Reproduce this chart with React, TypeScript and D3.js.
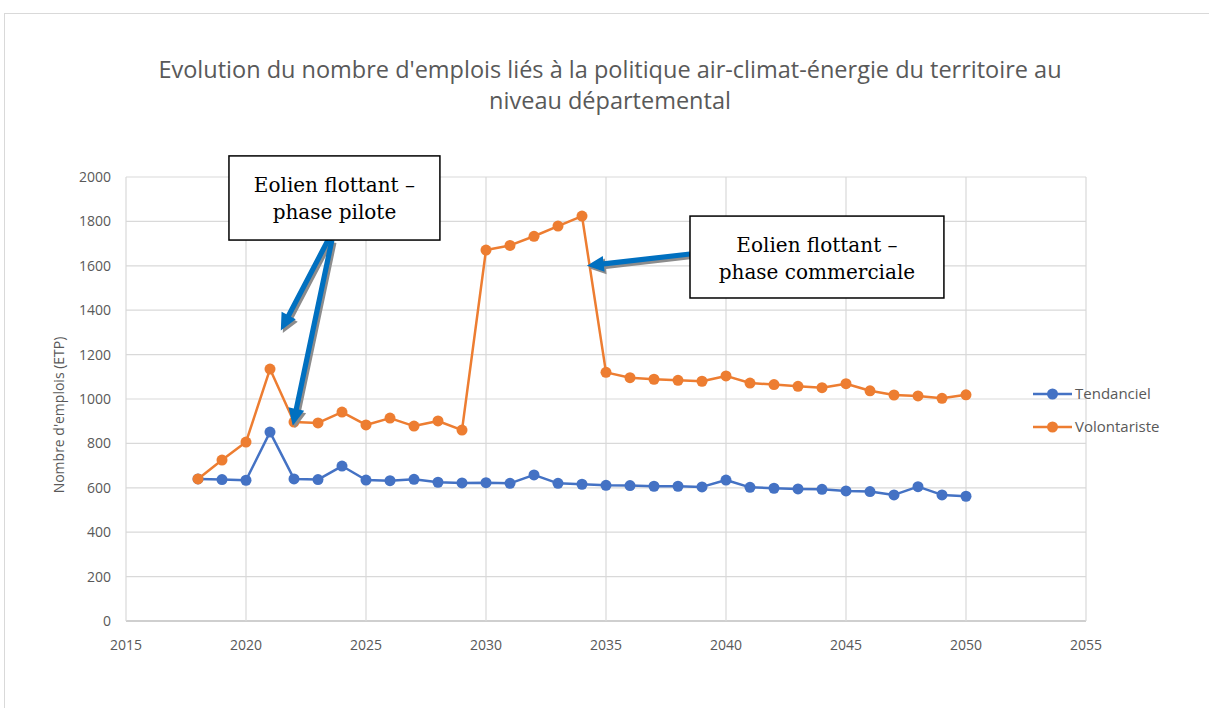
import React from 'react';
import * as d3 from 'd3';

const years = [2018, 2019, 2020, 2021, 2022, 2023, 2024, 2025, 2026, 2027, 2028, 2029, 2030, 2031, 2032, 2033, 2034, 2035, 2036, 2037, 2038, 2039, 2040, 2041, 2042, 2043, 2044, 2045, 2046, 2047, 2048, 2049, 2050];
const tendanciel = [640, 637, 634, 851, 640, 637, 698, 635, 632, 638, 625, 622, 623, 620, 658, 620, 616, 611, 610, 607, 607, 604, 635, 602, 598, 595, 593, 586, 583, 568, 605, 568, 562];
const volontariste = [640, 725, 806, 1135, 896, 892, 941, 883, 914, 878, 901, 860, 1671, 1692, 1733, 1779, 1824, 1120, 1096, 1089, 1084, 1080, 1104, 1072, 1065, 1057, 1051, 1069, 1037, 1018, 1014, 1003, 1019];
const xTicks = [2015, 2020, 2025, 2030, 2035, 2040, 2045, 2050, 2055];
const yTicks = [0, 200, 400, 600, 800, 1000, 1200, 1400, 1600, 1800, 2000];
const seriesNames = ['Tendanciel', 'Volontariste'];
const titleLines = ["Evolution du nombre d'emplois liés à la politique air-climat-énergie du territoire au", 'niveau départemental'];
const yLabel = "Nombre d'emplois (ETP)";

// annotations in data units
const boxes = [
  { x0: 2019.29, x1: 2028.08, y0: 2095, y1: 1716, lines: ['Eolien flottant –', 'phase pilote'] },
  { x0: 2038.5, x1: 2049.08, y0: 1824, y1: 1455, lines: ['Eolien flottant –', 'phase commerciale'] },
];
const arrows = [
  { fx: 2023.42, fy: 1716, tx: 2021.45, ty: 1308 },
  { fx: 2023.58, fy: 1716, tx: 2021.95, ty: 880 },
  { fx: 2038.5, fy: 1653, tx: 2034.2, ty: 1600 },
];

const W = 1209, H = 708;
const BLUE = '#4472C4', ORANGE = '#ED7D31', GRID = '#D9D9D9', TXT = '#595959';
const FONT = '"Open Sans", Lato, sans-serif';

export default function App() {
  const x = d3.scaleLinear().domain([2015, 2055]).range([126, 1086]);
  const y = d3.scaleLinear().domain([0, 2000]).range([621, 177]);
  const line = d3.line<number>().x((_, i) => x(years[i])).y(d => y(d));
  const series = [
    { name: seriesNames[0], values: tendanciel, color: BLUE },
    { name: seriesNames[1], values: volontariste, color: ORANGE },
  ];

  const arrowShape = (a: typeof arrows[0], k: number, dx: number, dy: number, color: string) => {
    const x1 = x(a.fx) + dx, y1 = y(a.fy) + dy, x2 = x(a.tx) + dx, y2 = y(a.ty) + dy;
    const ang = Math.atan2(y2 - y1, x2 - x1);
    const hl = 17, hw = 8, sw = 2.6;
    const bx = x2 - hl * Math.cos(ang), by = y2 - hl * Math.sin(ang);
    const px = -Math.sin(ang), py = Math.cos(ang);
    const pts = [
      [x1 + px * sw, y1 + py * sw],
      [bx + px * sw, by + py * sw],
      [bx + px * hw, by + py * hw],
      [x2, y2],
      [bx - px * hw, by - py * hw],
      [bx - px * sw, by - py * sw],
      [x1 - px * sw, y1 - py * sw],
    ];
    return <polygon key={k + color} points={pts.map(p => p.join(',')).join(' ')} fill={color} />;
  };

  return (
    <svg width={W} height={H} style={{ position: 'absolute', left: 0, top: 0, background: '#fff' }}>
      <rect x={4.5} y={13.5} width={W + 10} height={H + 10} fill="#fff" stroke={GRID} strokeWidth={1} />
      <text x={610} y={78} textAnchor="middle" fontFamily={FONT} fontSize={23.5} fill={TXT}>{titleLines[0]}</text>
      <text x={610} y={109} textAnchor="middle" fontFamily={FONT} fontSize={23.5} fill={TXT}>{titleLines[1]}</text>

      {yTicks.map(t => (
        <line key={'gy' + t} x1={x(2015)} x2={x(2055)} y1={y(t)} y2={y(t)} stroke={t === 0 ? '#BFBFBF' : GRID} strokeWidth={t === 0 ? 1.5 : 1.2} />
      ))}
      {xTicks.map(t => (
        <line key={'gx' + t} x1={x(t)} x2={x(t)} y1={y(0)} y2={y(2000)} stroke={GRID} strokeWidth={1.2} />
      ))}
      {yTicks.map(t => (
        <text key={'ty' + t} x={111} y={y(t) + 5} textAnchor="end" fontFamily={FONT} fontSize={14} fill={TXT}>{t}</text>
      ))}
      {xTicks.map(t => (
        <text key={'tx' + t} x={x(t)} y={650} textAnchor="middle" fontFamily={FONT} fontSize={14} fill={TXT}>{t}</text>
      ))}
      <text transform={`translate(64,415) rotate(-90)`} textAnchor="middle" fontFamily={FONT} fontSize={14} fill={TXT}>{yLabel}</text>

      {series.map(s => (
        <g key={s.name}>
          <path d={line(s.values) || ''} fill="none" stroke={s.color} strokeWidth={2.5} strokeLinejoin="round" />
          {s.values.map((v, i) => (
            <circle key={i} cx={x(years[i])} cy={y(v)} r={5.5} fill={s.color} />
          ))}
        </g>
      ))}

      {series.map((s, i) => (
        <g key={'lg' + s.name} transform={`translate(1033,${394 + i * 33})`}>
          <line x1={0} x2={39} y1={0} y2={0} stroke={s.color} strokeWidth={2.5} />
          <circle cx={19.5} cy={0} r={5.5} fill={s.color} />
          <text x={42} y={5} fontFamily={FONT} fontSize={15} fill={TXT}>{s.name}</text>
        </g>
      ))}

      {arrows.map((a, k) => arrowShape(a, k, 2, 2.5, '#8C8C8C'))}
      {arrows.map((a, k) => arrowShape(a, k, 0, 0, '#0070C0'))}

      {boxes.map((b, k) => {
        const bx = x(b.x0), bw = x(b.x1) - x(b.x0), by = y(b.y0), bh = y(b.y1) - y(b.y0);
        return (
          <g key={'box' + k}>
            <rect x={bx} y={by} width={bw} height={bh} fill="#fff" stroke="#000" strokeWidth={1.5} />
            {b.lines.map((l, j) => (
              <text key={j} x={bx + bw / 2} y={by + 36 + j * 27} textAnchor="middle" fontFamily='"DejaVu Serif", "Liberation Serif", serif' fontSize={20} fill="#000">{l}</text>
            ))}
          </g>
        );
      })}
    </svg>
  );
}
